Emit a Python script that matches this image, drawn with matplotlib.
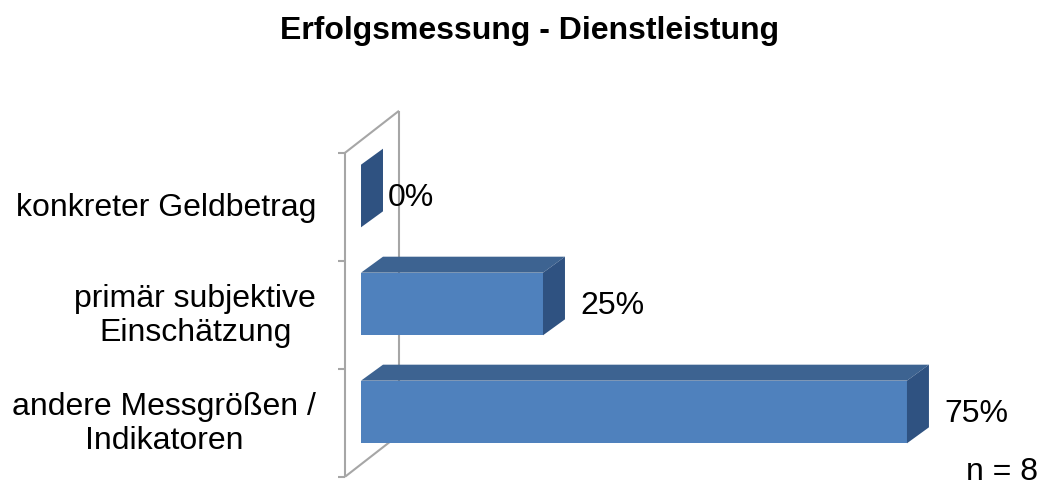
import numpy as np
import matplotlib
matplotlib.use("Agg")
import matplotlib.pyplot as plt
from matplotlib.patches import Polygon

plt.rcParams['font.family'] = ['Liberation Sans', 'DejaVu Sans']

# data
categories = ['andere Messgrößen /\nIndikatoren', 'primär subjektive\nEinschätzung', 'konkreter Geldbetrag']
values = [75, 25, 0]
value_labels = ['75%', '25%', '0%']
title = 'Erfolgsmessung - Dienstleistung'
note = 'n = 8'

front_col = '#4F81BD'
top_col = '#3D6391'
side_col = '#2F5281'
wall_col = '#A6A6A6'
fs = 23

fig = plt.figure(figsize=(10.46, 4.88), dpi=100)
# axes spans px 330..1046 horizontally, 100..488 vertically
ax = fig.add_axes([330 / 1046, 0, 716 / 1046, 388 / 488])
ax.set_xlim(-4.26, 94.1)
ax.set_ylim(-0.704, 2.889)
ax.axis('off')

ypos = np.arange(len(categories))
bar_h = 0.58
dx, dy = 3.02, 0.148          # bar depth offset
wx, wy = 7.42, 0.389          # wall depth offset
wall_x = -2.2
lo, hi = ypos[0] - 0.6, ypos[-1] + 0.4

# back wall / floor outline
lk = dict(color=wall_col, lw=1.5, zorder=1, solid_capstyle='butt')
ax.plot([wall_x, wall_x], [lo, hi], **lk)
ax.plot([wall_x + wx, wall_x + wx], [lo + wy, hi + wy], **lk)
ax.plot([wall_x, wall_x + wx], [hi, hi + wy], **lk)
ax.plot([wall_x, wall_x + wx], [lo, lo + wy], **lk)
for t in np.arange(len(categories) + 1) - 0.6:
    ax.plot([wall_x - 1.0, wall_x], [t, t], **lk)

# 3d bars
for y, v in zip(ypos, values):
    b, t = y - bar_h / 2, y + bar_h / 2
    if v > 0:
        ax.add_patch(Polygon([(0, t), (dx, t + dy), (v + dx, t + dy), (v, t)],
                             closed=True, fc=top_col, ec='none', zorder=3))
        ax.add_patch(Polygon([(0, b), (v, b), (v, t), (0, t)],
                             closed=True, fc=front_col, ec='none', zorder=3))
    ax.add_patch(Polygon([(v, b), (v + dx, b + dy), (v + dx, t + dy), (v, t)],
                         closed=True, fc=side_col, ec='none', zorder=3))

for y, v, lab in zip(ypos, values, value_labels):
    lx = v + 5.1 if v > 0 else 3.7
    ax.text(lx, y - 0.02, lab, ha='left', va='center', fontsize=fs, zorder=4)

for y, lab in zip(ypos, categories):
    ax.text(-6.18, y - 0.11, lab, ha='right', va='center', multialignment='center',
            fontsize=fs, linespacing=1.16, clip_on=False)

fig.text(530 / 1046, 1 - 31 / 488, title, ha='center', va='center',
         fontsize=fs, fontweight='bold')
fig.text(1038 / 1046, 1 - 472 / 488, note, ha='right', va='center', fontsize=fs)

fig.savefig('out.png', dpi=100)
